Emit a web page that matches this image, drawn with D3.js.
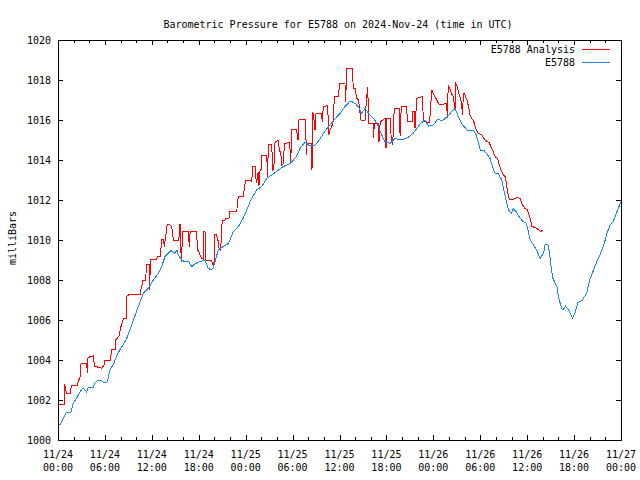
<!DOCTYPE html>
<html>
<head>
<meta charset="utf-8">
<script src="https://cdn.jsdelivr.net/npm/d3@7"></script>
<style>
  html, body { margin: 0; padding: 0; background: #fff; }
  svg { display: block; }
  text { font-family: "DejaVu Sans Mono", "Liberation Mono", monospace; font-size: 10px; fill: #000; }
</style>
</head>
<body>
<svg id="chart" width="640" height="480"></svg>
<script>
// ---------------- data ----------------
const title = "Barometric Pressure for E5788 on 2024-Nov-24 (time in UTC)";
const yLabel = "milliBars";
const seriesNames = ["E5788 Analysis", "E5788"];
const startUTC = Date.UTC(2024, 10, 24, 0, 0);
const endUTC = Date.UTC(2024, 10, 27, 0, 0);
const yTickValues = [1000, 1002, 1004, 1006, 1008, 1010, 1012, 1014, 1016, 1018, 1020];

// hours since 11/24 00:00 UTC
const analysisHours = [0,0.8,0.85,0.95,1.1,1.6,1.7,2.5,2.6,2.8,2.9,3.67,3.75,3.84,4.5,4.7,5.4,5.6,5.9,6.0,6.65,6.8,6.87,7.3,7.38,7.8,8.0,8.3,8.36,8.7,8.78,9.0,10.5,10.6,10.7,10.8,11.2,11.34,11.68,11.72,11.8,11.86,12.62,12.7,13.1,13.26,13.47,13.6,13.7,13.98,14.2,14.54,14.66,14.75,15.47,15.5,15.65,15.72,15.82,15.9,16.67,16.8,16.9,17.74,17.82,18.0,18.16,18.38,18.6,18.67,18.8,18.85,18.93,19.65,19.74,19.95,20.0,20.3,20.37,20.5,20.6,20.8,20.94,21.0,21.36,21.5,21.87,21.9,22.85,23.06,23.7,23.83,24.0,24.55,24.77,24.9,25.2,25.28,25.4,25.6,25.7,25.8,25.96,26.05,26.7,26.8,26.9,27.33,27.46,27.6,27.76,28.2,28.3,28.5,28.6,28.8,28.97,29.6,29.7,29.76,29.9,30.5,30.7,30.8,31.6,31.7,31.75,31.8,32.4,32.48,32.6,32.74,32.87,33.0,33.7,33.8,33.93,34.5,34.6,34.8,35.0,35.2,35.34,35.9,35.98,36.7,36.8,36.9,37.7,37.74,38.0,38.2,38.45,38.6,38.75,39.26,39.4,39.6,39.7,39.77,40.3,40.35,40.45,41.0,41.05,41.2,41.82,41.95,42.05,42.46,42.6,42.8,43.0,43.65,43.75,43.9,44.6,44.67,45.3,45.36,45.6,45.66,45.87,46.64,46.7,46.9,47.5,47.6,47.8,48.0,48.2,48.44,48.65,48.85,49.2,49.5,49.7,49.8,49.9,50.1,50.3,50.55,50.77,50.86,51.0,51.2,51.4,51.6,51.75,51.83,52.0,52.3,52.5,52.7,52.9,53.1,53.3,53.5,53.75,54.2,54.6,55.15,55.45,55.65,55.9,56.2,56.5,56.75,56.97,57.2,57.4,57.6,57.8,58.2,58.7,59.1,59.3,59.7,60.0,60.4,60.6,61.0,61.4,61.73,61.98];
const analysisValues = [1001.8,1001.8,1002.8,1002.6,1002.33,1002.33,1002.75,1002.75,1003.03,1003.05,1003.8,1003.83,1003.37,1004.13,1004.2,1003.67,1003.63,1003.58,1003.75,1003.97,1003.97,1004.3,1004.53,1004.53,1005.0,1005.2,1005.6,1006.0,1006.08,1006.08,1007.17,1007.25,1007.28,1007.53,1007.58,1007.97,1008.0,1008.8,1008.8,1007.5,1008.8,1009.03,1009.03,1009.2,1009.2,1010.03,1010.03,1009.67,1010.0,1010.8,1010.8,1010.67,1010.33,1010.0,1010.0,1010.8,1010.8,1009.42,1008.92,1010.42,1010.42,1009.67,1010.42,1010.42,1009.53,1009.42,1009.25,1009.08,1009.05,1010.42,1010.42,1009.33,1009.0,1009.0,1008.8,1008.8,1010.28,1010.28,1010.0,1010.0,1009.58,1009.5,1010.58,1011.0,1011.0,1011.08,1011.08,1011.42,1011.42,1012.17,1012.17,1012.58,1013.0,1013.0,1012.92,1013.7,1013.7,1013.17,1012.83,1013.42,1012.7,1013.42,1013.5,1014.25,1014.25,1013.08,1014.8,1014.8,1013.5,1013.6,1014.92,1014.97,1014.5,1014.33,1013.75,1013.8,1014.83,1014.87,1014.42,1013.92,1015.53,1015.53,1015.0,1016.0,1016.03,1015.33,1014.25,1014.83,1014.83,1013.5,1016.4,1016.0,1015.5,1016.33,1016.33,1015.92,1016.67,1016.72,1015.25,1015.5,1015.67,1015.92,1017.17,1017.17,1017.83,1017.83,1016.92,1018.58,1018.58,1017.58,1017.58,1017.08,1017.0,1016.42,1016.0,1016.0,1016.75,1017.67,1016.5,1015.83,1015.83,1015.08,1015.83,1015.83,1014.92,1015.9,1016.08,1014.58,1016.08,1016.08,1015.2,1014.75,1016.58,1016.58,1015.2,1016.67,1016.67,1015.92,1015.92,1016.45,1016.45,1015.58,1017.08,1017.17,1016.08,1015.92,1015.87,1016.33,1017.5,1017.33,1017.17,1017.0,1016.83,1016.75,1016.78,1016.83,1016.83,1016.08,1017.75,1017.58,1017.33,1017.17,1016.53,1017.83,1017.75,1017.42,1017.17,1016.83,1016.25,1017.33,1017.3,1017.0,1016.67,1016.25,1016.08,1016.0,1015.75,1015.5,1015.33,1015.25,1015.0,1014.87,1014.58,1014.42,1014.17,1014.08,1013.67,1013.42,1013.25,1013.17,1012.67,1012.17,1012.0,1012.03,1012.12,1012.08,1011.83,1011.58,1011.53,1011.08,1010.67,1010.63,1010.53,1010.42,1010.5];

const stationHours = [0,0.3,0.7,1.1,1.66,1.96,2.4,2.8,3.2,3.67,3.9,4.5,4.7,5.15,5.6,5.9,6.3,6.65,7.1,7.5,7.9,8.3,8.7,9.2,9.63,10.27,10.9,11.55,12.19,12.83,13.26,13.68,14.1,14.45,14.96,15.2,15.4,15.8,16.2,16.7,17.1,17.6,18.16,18.8,19.2,19.65,19.9,20.5,21.1,21.8,22.4,23.06,23.7,24.3,24.8,25.4,26.05,26.7,27.33,28.2,28.8,29.7,30.5,30.95,31.6,32.2,32.9,33.5,34.15,34.8,35.4,36.07,36.7,37.3,37.56,38.0,38.4,38.8,39.26,39.9,40.5,40.96,41.4,41.8,42.5,43.1,43.7,44.6,45.4,46.3,46.9,47.4,48.0,48.6,49.1,49.9,50.55,50.8,51.2,51.6,52.3,53.1,53.5,54.0,54.4,54.8,55.25,55.7,55.9,56.3,56.75,57.2,57.6,58.0,58.2,58.6,59.1,59.5,59.9,60.4,60.8,61.2,61.65,62.1,62.3,62.7,62.9,63.1,63.3,63.8,64.0,64.4,64.6,64.9,65.3,65.5,65.8,66.1,66.5,67.0,67.6,68.0,68.5,68.9,69.3,69.74,70.2,70.6,71.0,71.4,71.9,72.0];
const stationValues = [1000.7,1000.8,1001.1,1001.4,1001.4,1001.85,1002.1,1002.4,1002.6,1002.4,1002.65,1002.65,1002.85,1003.0,1002.95,1002.85,1002.9,1003.5,1003.8,1004.2,1004.5,1004.75,1005.0,1005.5,1006.0,1006.67,1007.33,1007.58,1008.0,1008.33,1008.67,1009.17,1009.33,1009.47,1009.33,1009.5,1009.25,1009.0,1008.92,1008.92,1008.67,1008.83,1008.92,1009.0,1008.58,1008.5,1008.67,1009.5,1009.67,1009.83,1010.4,1010.67,1011.1,1011.65,1012.1,1012.5,1012.67,1013.08,1013.25,1013.5,1013.67,1013.83,1014.17,1014.58,1014.9,1014.7,1014.75,1015.05,1015.45,1015.75,1016.05,1016.33,1016.67,1016.92,1016.92,1016.83,1016.67,1016.33,1016.58,1016.25,1016.0,1015.67,1015.25,1014.92,1014.83,1015.08,1015.0,1015.08,1015.33,1015.8,1016.0,1015.7,1015.75,1016.05,1015.95,1016.2,1016.53,1016.55,1016.17,1015.83,1015.5,1015.5,1015.25,1014.5,1014.5,1014.33,1014.08,1013.5,1013.33,1013.33,1013.0,1012.17,1011.5,1011.33,1011.58,1011.42,1011.08,1010.92,1010.83,1010.0,1009.75,1009.5,1009.08,1009.33,1009.8,1009.75,1009.25,1008.5,1008.08,1007.67,1007.17,1006.58,1006.5,1006.7,1006.5,1006.33,1006.12,1006.33,1006.87,1006.97,1007.33,1008.0,1008.5,1008.92,1009.25,1009.67,1010.33,1010.75,1010.92,1011.33,1011.83,1011.9];

// ---------------- chart ----------------
const svg = d3.select("#chart");
const L = 58, R = 621, T = 40, B = 440;

const x = d3.scaleUtc().domain([new Date(startUTC), new Date(endUTC)]).range([L, R]);
const y = d3.scaleLinear().domain([1000, 1020]).range([B, T]);
const toDate = h => new Date(startUTC + h * 3600000);

const majorX = d3.utcHour.every(6).range(new Date(startUTC), new Date(endUTC + 1));
const minorX = d3.utcHour.every(2).range(new Date(startUTC), new Date(endUTC + 1));

// axes (ticks inward, mirrored)
function styleAxis(g) {
  g.select(".domain").remove();
  g.selectAll("text").remove();
  g.selectAll("line").attr("stroke", "#000").attr("shape-rendering", "crispEdges");
}
svg.append("g").attr("transform", `translate(0,${B})`)
  .call(d3.axisBottom(x).tickValues(minorX).tickSize(-3).tickFormat("")).call(styleAxis);
svg.append("g").attr("transform", `translate(0,${B})`)
  .call(d3.axisBottom(x).tickValues(majorX).tickSize(-5).tickFormat("")).call(styleAxis);
svg.append("g").attr("transform", `translate(0,${T})`)
  .call(d3.axisTop(x).tickValues(minorX).tickSize(-3).tickFormat("")).call(styleAxis);
svg.append("g").attr("transform", `translate(0,${T})`)
  .call(d3.axisTop(x).tickValues(majorX).tickSize(-5).tickFormat("")).call(styleAxis);
svg.append("g").attr("transform", `translate(${L},0)`)
  .call(d3.axisLeft(y).tickValues(yTickValues).tickSize(-5).tickFormat("")).call(styleAxis);
svg.append("g").attr("transform", `translate(${R},0)`)
  .call(d3.axisRight(y).tickValues(yTickValues).tickSize(-5).tickFormat("")).call(styleAxis);

// tick labels
const fmtDay = d3.utcFormat("%m/%d"), fmtTime = d3.utcFormat("%H:%M");
const xl = svg.append("g");
majorX.forEach(d => {
  const t = xl.append("text").attr("text-anchor", "middle");
  t.append("tspan").attr("x", x(d)).attr("y", 458).text(fmtDay(d));
  t.append("tspan").attr("x", x(d)).attr("y", 471).text(fmtTime(d));
});
svg.append("g").selectAll("text").data(yTickValues).join("text")
  .attr("x", 51).attr("y", d => y(d) + 4).attr("text-anchor", "end").text(d => d);

// lines
const line = d3.line().x(d => x(toDate(d[0]))).y(d => y(d[1]));
const analysis = analysisHours.map((h, i) => [h, analysisValues[i]]);
const station = stationHours.map((h, i) => [h, stationValues[i]]);
const red = "#ff0000", blue = "#1a84f0";
svg.append("path").datum(analysis).attr("d", line).attr("fill", "none")
  .attr("stroke", red).attr("stroke-width", 1).attr("shape-rendering", "crispEdges");
svg.append("path").datum(station).attr("d", line).attr("fill", "none")
  .attr("stroke", blue).attr("stroke-width", 1).attr("shape-rendering", "crispEdges");

// border
svg.append("rect").attr("x", L + 0.5).attr("y", T + 0.5).attr("width", R - L).attr("height", B - T)
  .attr("fill", "none").attr("stroke", "#000").attr("stroke-width", 1);

// title and y label
svg.append("text").attr("x", 338).attr("y", 28).attr("text-anchor", "middle").text(title);
svg.append("text").attr("transform", "translate(16,238) rotate(-90)").attr("text-anchor", "middle").text(yLabel);

// legend
const legendColors = [red, blue];
seriesNames.forEach((name, i) => {
  const ly = 49 + i * 13;
  svg.append("text").attr("x", 575).attr("y", ly + 4).attr("text-anchor", "end").text(name);
  svg.append("line").attr("x1", 582).attr("x2", 610).attr("y1", ly + 0.5).attr("y2", ly + 0.5)
    .attr("stroke", legendColors[i]).attr("stroke-width", 1);
});
</script>
</body>
</html>
